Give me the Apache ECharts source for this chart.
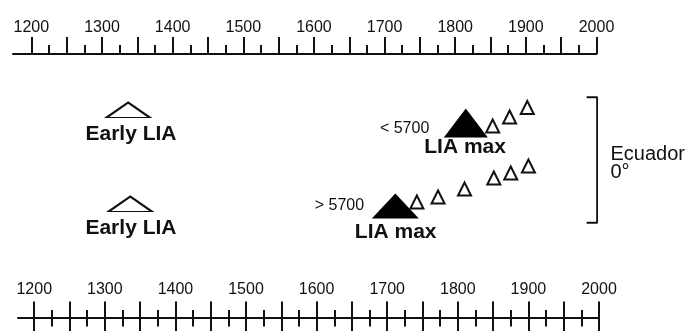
<!DOCTYPE html>
<html>
<head>
<meta charset="utf-8">
<script src="https://cdn.jsdelivr.net/npm/echarts@6/dist/echarts.min.js"></script>
<style>html,body{margin:0;padding:0;background:#fff}#c{width:689px;height:331px}</style>
</head>
<body>
<div id="c"></div>
<script>
// ---- axis ticks / labels (years) ----
const majorTicks = [1200,1250,1300,1350,1400,1450,1500,1550,1600,1650,1700,1750,1800,1850,1900,1950,2000];
const minorTicks = [1225,1275,1325,1375,1425,1475,1525,1575,1625,1675,1725,1775,1825,1875,1925,1975];
const tickLabels = [1200,1300,1400,1500,1600,1700,1800,1900,2000];

// ---- upper row (< 5700) : [year, vertical position] ----
const topEarlyLIA = [[1337, 208]];
const topLIAmax   = [[1815, 195]];
const topLater    = [[1853, 192], [1877, 201], [1902, 210.5]];

// ---- lower row (> 5700) ----
const botEarlyLIA = [[1336, 114]];
const botLIAmax   = [[1711.5, 112]];
const botLater    = [[1742, 116], [1772, 121], [1809.5, 129], [1851, 140], [1875, 145], [1900, 152]];

// ---- texts : [year, vertical position, text] ----
const topBoldTexts = [[1341, 183.8, 'Early LIA'], [1814, 170.5, 'LIA max']];
const botBoldTexts = [[1337, 89.7, 'Early LIA'], [1712, 85.5, 'LIA max']];
const topSmallTexts = [[1764, 189, '< 5700']];
const botSmallTexts = [[1668, 112.2, '> 5700']];
const regionTexts = [[2019, 163.8, 'Ecuador'], [2019, 145.5, '0°']];

// ---- bracket (year, vertical position) ----
const bracket = [[1986, 220.7], [2001, 220.7], [2001, 95.3], [1986, 95.3]];
const bracketMid = [[2001, 148.7], [2009, 148.7]];

const INK = '#111';
const SANS = "'Liberation Sans',Arial,sans-serif";

function xAx(grid, min, pos, opts) {
  return Object.assign({
    type: 'value', gridIndex: grid, min: min, max: 2000, position: pos,
    splitLine: {show: false},
    axisLine: {show: false, onZero: false},
    axisLabel: {show: false},
    axisTick: {show: false}
  }, opts);
}
const yearFmt = v => String(v);

const xAxes = [
  xAx(0, 1174, 'top', {
    axisLine: {show: true, onZero: false, lineStyle: {color: INK, width: 2}},
    axisTick: {show: true, customValues: majorTicks, length: 17, lineStyle: {color: INK, width: 2}},
    axisLabel: {show: true, customValues: tickLabels, formatter: yearFmt, margin: 18, fontSize: 16, fontFamily: SANS, color: INK}
  }),
  xAx(0, 1174, 'top', {
    axisTick: {show: true, customValues: minorTicks, length: 9, lineStyle: {color: INK, width: 2}}
  }),
  xAx(1, 1177, 'bottom', {
    axisLine: {show: true, onZero: false, lineStyle: {color: INK, width: 2}},
    axisTick: {show: true, inside: true, customValues: majorTicks, length: 16.5, lineStyle: {color: INK, width: 2}},
    axisLabel: {show: true, inside: true, customValues: tickLabels, formatter: yearFmt, margin: 20, fontSize: 16, fontFamily: SANS, color: INK}
  }),
  xAx(1, 1177, 'bottom', {
    axisTick: {show: true, inside: false, customValues: majorTicks, length: 16, lineStyle: {color: INK, width: 2}}
  }),
  xAx(1, 1177, 'bottom', {
    axisTick: {show: true, inside: true, customValues: minorTicks, length: 8, lineStyle: {color: INK, width: 2}}
  }),
  xAx(1, 1177, 'bottom', {
    axisTick: {show: true, inside: false, customValues: minorTicks, length: 8.5, lineStyle: {color: INK, width: 2}}
  })
];

const yAxes = [
  {type: 'value', gridIndex: 0, min: 0, max: 264, show: false},
  {type: 'value', gridIndex: 1, min: 0, max: 264, show: false}
];

function tri(xi, yi, data, size, filled) {
  return {
    type: 'scatter', xAxisIndex: xi, yAxisIndex: yi, data: data, symbol: 'triangle',
    symbolSize: size, silent: true, clip: false,
    itemStyle: filled ? {color: '#000', borderWidth: 0, opacity: 1}
                      : {color: '#fff', borderColor: INK, borderWidth: 2, opacity: 1}
  };
}
function txt(xi, yi, data, font, pos) {
  return {
    type: 'scatter', xAxisIndex: xi, yAxisIndex: yi, data: data, symbolSize: 1,
    silent: true, clip: false, itemStyle: {color: 'rgba(0,0,0,0)', opacity: 1},
    label: Object.assign({show: true, position: pos, distance: 0, color: INK, opacity: 1,
      formatter: p => p.value[2]}, font)
  };
}
const bold = {fontFamily: SANS, fontWeight: 'bold', fontSize: 21};
const small = {fontFamily: SANS, fontSize: 16};
const region = {fontFamily: SANS, fontSize: 20};

const chart = echarts.init(document.getElementById('c'), null, {renderer: 'canvas'});
chart.setOption({
  animation: false,
  backgroundColor: '#fff',
  grid: [
    {left: 13, right: 92.5, top: 54, bottom: 13},
    {left: 18, right: 90, top: 54, bottom: 13}
  ],
  xAxis: xAxes,
  yAxis: yAxes,
  series: [
    tri(0, 0, topEarlyLIA, [43, 15], false),
    tri(0, 0, topLIAmax, [44, 29], true),
    tri(0, 0, topLater, [13, 13], false),
    tri(2, 1, botEarlyLIA, [43, 15], false),
    tri(2, 1, botLIAmax, [47, 25], true),
    tri(2, 1, botLater, [13, 13], false),
    txt(0, 0, topBoldTexts, bold, 'inside'),
    txt(2, 1, botBoldTexts, bold, 'inside'),
    txt(0, 0, topSmallTexts, small, 'left'),
    txt(2, 1, botSmallTexts, small, 'left'),
    txt(0, 0, regionTexts, region, 'right'),
    {type: 'line', xAxisIndex: 0, yAxisIndex: 0, data: bracket, symbol: 'none', clip: false, silent: true,
     lineStyle: {color: INK, width: 2}},
    {type: 'line', xAxisIndex: 0, yAxisIndex: 0, data: bracketMid, symbol: 'none', clip: false, silent: true,
     lineStyle: {color: INK, width: 2}}
  ]
});
</script>
</body>
</html>
